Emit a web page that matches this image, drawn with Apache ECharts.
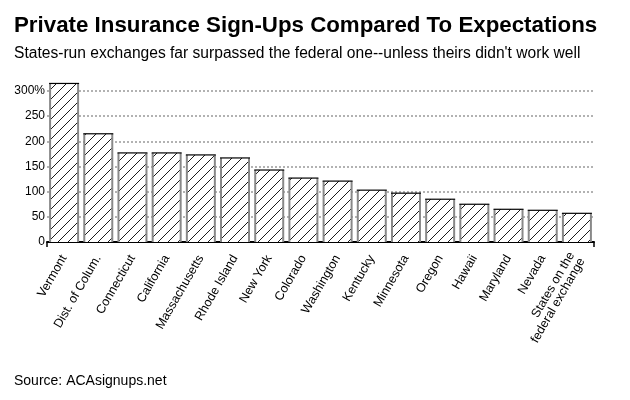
<!DOCTYPE html>
<html>
<head>
<meta charset="utf-8">
<script src="https://cdn.jsdelivr.net/npm/echarts@6/dist/echarts.min.js"></script>
<style>html,body{margin:0;padding:0;background:#fff}#c{width:630px;height:400px}</style>
</head>
<body>
<div id="c"></div>
<script>
const categories = ["Vermont","Dist. of Colum.","Connecticut","California","Massachusetts","Rhode Island","New York","Colorado","Washington","Kentucky","Minnesota","Oregon","Hawaii","Maryland","Nevada","States on the\nfederal exchange"];
const values = [315,215,177,177,173,167,143,127,121,103,97,85,75,65,63,57];
const yTicks = [0,50,100,150,200,250,300];

const pc = document.createElement('canvas');
pc.width = 10; pc.height = 10;
const g = pc.getContext('2d');
g.fillStyle = '#fff'; g.fillRect(0,0,10,10);
g.strokeStyle = '#000'; g.lineWidth = 0.9;
g.beginPath();
g.moveTo(-1,11); g.lineTo(11,-1);
g.stroke();

const chart = echarts.init(document.getElementById('c'), null, {renderer:'canvas'});
const FONT = 'Liberation Sans, Arial, sans-serif';
const barData = values.map((v,i)=>[i,v]);
chart.setOption({
  animation:false,
  title:[
    {text:'Private Insurance Sign-Ups Compared To Expectations', left:14, top:15, padding:0,
     textStyle:{fontFamily:FONT, fontSize:22.3, fontWeight:'bold', color:'#000'}},
    {text:'States-run exchanges far surpassed the federal one--unless theirs didn\'t work well', left:14, top:46, padding:0,
     textStyle:{fontFamily:FONT, fontSize:15.6, fontWeight:'normal', color:'#000'}},
    {text:'Source: ACAsignups.net', left:14, top:374, padding:0,
     textStyle:{fontFamily:FONT, fontSize:14, fontWeight:'normal', color:'#000'}}
  ],
  grid:{left:47, right:36, top:91, bottom:158, containLabel:false},
  xAxis:{
    type:'category', data:categories,
    axisLine:{lineStyle:{color:'#000', width:2}},
    axisTick:{show:false},
    axisLabel:{rotate:60, interval:0, margin:14, color:'#000', fontFamily:FONT, fontSize:12.5, lineHeight:12}
  },
  yAxis:{
    type:'value', min:0, max:300, interval:50,
    axisLine:{show:false}, axisTick:{show:false},
    axisLabel:{margin:2, color:'#000', fontFamily:FONT, fontSize:12,
      formatter:v=> v===300 ? '300%' : String(v)},
    splitLine:{lineStyle:{color:'#999', type:[2,2], width:1.5}}
  },
  series:[{
    type:'custom', data:barData, clip:false, encode:{x:0, y:1}, z:3,
    renderItem:(params, api)=>{
      const top = api.coord([api.value(0), api.value(1)]);
      const base = api.coord([api.value(0), 0]);
      const w = 28;
      const l = top[0]-w/2, r = top[0]+w/2;
      return {type:'group', children:[
        {type:'rect', shape:{x:l, y:top[1], width:w, height:base[1]-top[1]},
         style:{fill:{image:pc, repeat:'repeat'}}},
        {type:'line', shape:{x1:l, y1:top[1], x2:l, y2:base[1]}, style:{stroke:'#888', lineWidth:2}},
        {type:'line', shape:{x1:r, y1:top[1], x2:r, y2:base[1]}, style:{stroke:'#888', lineWidth:2}},
        {type:'line', shape:{x1:l-1, y1:top[1], x2:r+1, y2:top[1]}, style:{stroke:'#000', lineWidth:1.2}}
      ]};
    }
  }]
});
const x0 = 47, x1 = 630-36, y0 = chart.convertToPixel({yAxisIndex:0}, 0);
chart.setOption({graphic:[
  {type:'line', shape:{x1:x0,y1:y0,x2:x0,y2:y0+5}, style:{stroke:'#000', lineWidth:1.5}},
  {type:'line', shape:{x1:x1,y1:y0,x2:x1,y2:y0+5}, style:{stroke:'#000', lineWidth:1.5}}
]});
</script>
</body>
</html>
